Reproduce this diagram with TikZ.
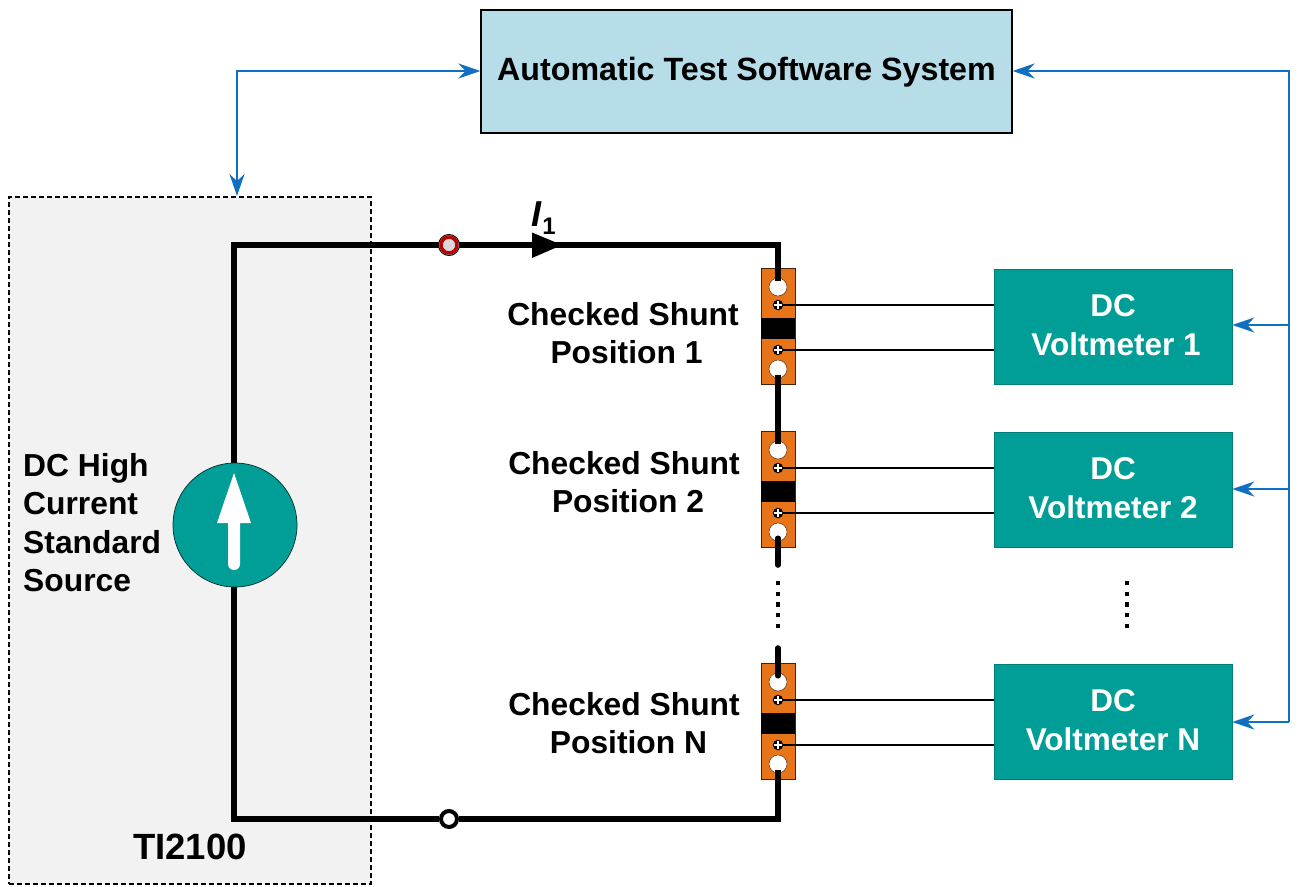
\documentclass[tikz,border=0pt]{standalone}
\usepackage{fontspec}
\setmainfont{Liberation Sans}
\usetikzlibrary{calc,arrows.meta}
\pgfdeclarelayer{back}\pgfdeclarelayer{wires}
\pgfsetlayers{back,wires,main}
\definecolor{tealbox}{HTML}{009E96}
\definecolor{lightbluebox}{HTML}{B7DDE8}
\definecolor{linkblue}{HTML}{0F6FC0}
\definecolor{shuntorange}{HTML}{E8741A}
\definecolor{srcgray}{HTML}{F2F2F2}
\definecolor{ringred}{HTML}{C00000}
\tikzset{
  x=1pt,y=-1pt,
  boxtext/.style={font=\fontsize{31.8}{38.5}\selectfont\bfseries,text=black,align=center},
  metertext/.style={font=\fontsize{31.5}{38.5}\selectfont\bfseries,text=white,align=center},
  meter/.style={draw=tealbox!80!black,line width=0.6pt,fill=tealbox,minimum width=238pt,minimum height=115pt,inner sep=0pt},
  shuntbody/.style={draw=black!70!shuntorange,line width=0.8pt,fill=shuntorange,minimum width=34pt,minimum height=116pt,inner sep=0pt},
  shuntband/.style={fill=black,minimum width=34pt,minimum height=21pt,inner sep=0pt},
  bighole/.style={circle,fill=white,draw=black!60!shuntorange,line width=0.5pt,minimum size=18pt,inner sep=0pt},
  smallhole/.style={circle,fill=black,minimum size=10.5pt,inner sep=0pt,
    path picture={\draw[white,line width=1.6pt] ($(path picture bounding box.north)+(0,1.5)$)--($(path picture bounding box.south)+(0,-1.5)$)
      ($(path picture bounding box.west)+(1.5,0)$)--($(path picture bounding box.east)+(-1.5,0)$);}},
  wire/.style={line width=5.6pt,black},
  sense/.style={line width=1.8pt,black},
  link/.style={line width=2.6pt,linkblue,>={Stealth[length=22pt,width=15pt]}},
  term/.style={circle,line width=3.5pt,minimum size=16pt,inner sep=0pt},
  dotmark/.style={fill=black,minimum size=4.5pt,inner sep=0pt},
}
\begin{document}
\begin{tikzpicture}
\useasboundingbox (0,0) rectangle (1303,886);
\begin{pgfonlayer}{back}
\node[draw=black,dash pattern=on 5pt off 3pt,line width=1.6pt,fill=srcgray,minimum width=362pt,minimum height=687pt,inner sep=0pt] (tibox) at (190,540.5) {};
\end{pgfonlayer}
\node[draw=black,line width=1.2pt,fill=lightbluebox,minimum width=531pt,minimum height=123pt,inner sep=0pt] (sw) at (746.5,71.5) {};
\node[boxtext,font=\fontsize{32.2}{38.5}\selectfont\bfseries] (swt) at (746.5,72.5) {Automatic Test Software System};

\node[circle,draw=black!70!tealbox,line width=0.7pt,fill=tealbox,minimum size=124pt,inner sep=0pt] (src) at (235,525) {};
\fill[white] (217,523) -- (234,473) -- (251,523) -- (240,523) -- (240,564)
  arc[start angle=0,end angle=180,radius=6] -- (228,523) -- cycle;
\node[boxtext,align=left,anchor=west] (srct) at (19.7,522.5) {DC High\\Current\\Standard\\Source};
\node[boxtext,font=\fontsize{36.5}{38}\selectfont\bfseries] (ti) at (190,847) {TI2100};

% Shunts
\foreach \id/\top/\ly/\lab/\xl/\meterlab in {1/268/333/\hspace{7pt}Position 1/623/DC\\\hspace{6pt}Voltmeter 1, 2/431/482/\hspace{8pt}Position 2/624/DC\\Voltmeter 2, N/663/723/\hspace{9pt}Position N/624/DC\\Voltmeter N}{
  \begin{pgfonlayer}{back}
  \node[shuntbody] (sh\id) at (778,\top+58.5) {};
  \node[shuntband] (band\id) at (778,\top+60.5) {};
  \node[bighole] (ta\id) at (778,\top+19) {};
  \node[bighole] (tb\id) at (778,\top+101) {};
  \end{pgfonlayer}
  \node[smallhole] (pa\id) at (778,\top+37) {};
  \node[smallhole] (pb\id) at (778,\top+82) {};
  \node[boxtext] (lab\id) at (\xl,\ly) {Checked Shunt\\\lab};
  \node[meter] (vm\id) at (1113,\top+58.5) {};
  \node[metertext] (vmt\id) at (1113,\top+57) {\meterlab};
  \draw[sense] (pa\id) -- (vm\id.west |- pa\id);
  \draw[sense] (pb\id) -- (vm\id.west |- pb\id);
}

% Terminals
\node[term,draw=ringred,fill=black!15] (t1) at (449,245) {};
\draw[black,line width=1pt] (449,245) circle (10.5pt);
\node[term,draw=black,fill=white,line width=4pt] (t2) at (449,819) {};

% Current marker
\fill[black] (532,232.5) -- (562,245) -- (532,258) -- cycle;
\node[font=\fontsize{36}{36}\selectfont\bfseries\itshape,inner sep=0pt] (ilab) at (536,214) {I};
\node[font=\fontsize{24}{24}\selectfont\bfseries,inner sep=0pt] (ilabs) at (549,226) {1};

% Wires
\coordinate (srcx) at (234,525);
\coordinate (gapa) at (778,565);
\coordinate (gapb) at (778,648);
\begin{pgfonlayer}{wires}
\draw[wire,line join=miter] (srcx |- src.north) -- (srcx |- t1) -- (t1) -- (t1 -| ta1) -- ($(ta1.north)+(0,3)$);
\draw[wire] ($(tb1.south)+(0,-3)$) -- ($(ta2.north)+(0,3)$);
\draw[wire,line cap=round] ($(tb2.south)+(0,-3)$) -- (gapa);
\draw[wire,line cap=round] (gapb) -- ($(taN.north)+(0,3)$);
\draw[wire,line join=miter] ($(tbN.south)+(0,-3)$) -- (tbN |- t2) -- (t2) -- (srcx |- t2) -- (srcx |- src.south);
\end{pgfonlayer}

% Ellipsis marks
\foreach \i/\y in {1/583,2/594,3/604.5,4/615,5/626}{
  \node[dotmark] (sd\i) at (778,\y) {};
  \node[dotmark] (vd\i) at (1127,\y) {};
}

% Links
\coordinate (ltop) at (237,71);
\coordinate (rtop) at (1289,71);
\draw[link,<->] (sw.west |- ltop) -- (ltop) -- (237,196);
\coordinate (rb1) at (1289,325);
\coordinate (rb2) at (1289,489);
\coordinate (rb3) at (1289,722);
\draw[link,->] (rb3) -- (vmN.east |- rb3);
\draw[link,<-] (sw.east |- rtop) -- (rtop) -- (rb3);
\draw[link,->] (rb1) -- (vm1.east |- rb1);
\draw[link,->] (rb2) -- (vm2.east |- rb2);
\end{tikzpicture}
\end{document}
